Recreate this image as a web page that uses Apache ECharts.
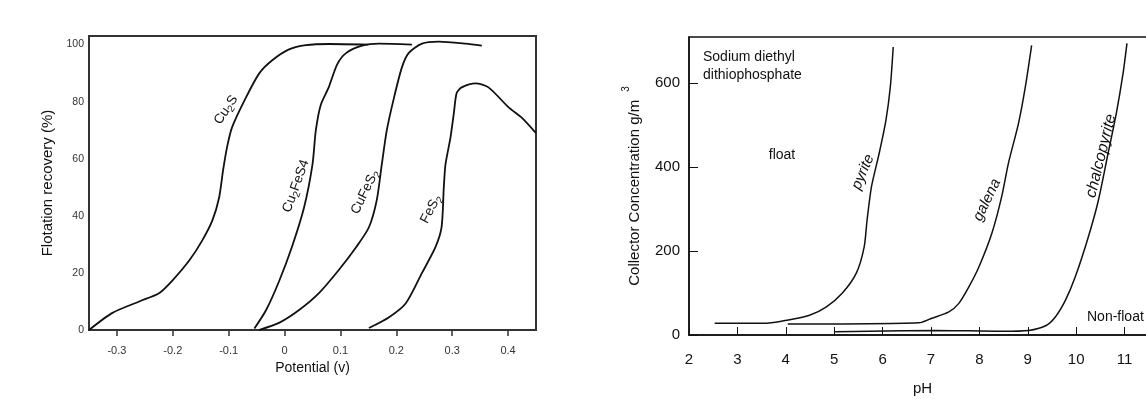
<!DOCTYPE html>
<html>
<head>
<meta charset="utf-8">
<script src="https://cdn.jsdelivr.net/npm/echarts@6/dist/echarts.min.js"></script>
<style>
  html, body { margin: 0; padding: 0; background: #fff; }
  #chart { width: 1146px; height: 399px; }
</style>
</head>
<body>
<div id="chart"></div>
<script>
// Left panel: flotation recovery (%) vs potential (v)
const potentialTicks = [-0.3, -0.2, -0.1, 0, 0.1, 0.2, 0.3, 0.4];

const cu2sX = [-0.35, -0.308, -0.26, -0.224, -0.2, -0.17, -0.147, -0.129, -0.117, -0.11, -0.103, -0.094, -0.069, -0.045, -0.022, 0.008, 0.038, 0.08, 0.15];
const cu2sY = [0, 6, 10, 13, 17.5, 24.5, 31.5, 38.5, 46.5, 56, 64, 71, 81.5, 90, 94.5, 98.3, 99.8, 100.2, 100];

const cu2fes4X = [-0.054, -0.033, -0.01, 0.013, 0.035, 0.05, 0.056, 0.065, 0.079, 0.094, 0.11, 0.139, 0.169, 0.228];
const cu2fes4Y = [0.5, 7, 17, 29, 43, 58, 70, 79, 85, 93, 97, 99.6, 100.3, 100];

const cufes2X = [-0.046, -0.01, 0.026, 0.062, 0.097, 0.128, 0.151, 0.165, 0.174, 0.183, 0.196, 0.21, 0.222, 0.246, 0.276, 0.324, 0.353];
const cufes2Y = [0, 2.5, 7, 13, 21, 29, 36, 45.5, 58, 70, 81.5, 92, 97, 100.3, 101, 100.3, 99.6];

const fes2X = [0.151, 0.187, 0.217, 0.246, 0.27, 0.281, 0.285, 0.288, 0.297, 0.303, 0.308, 0.317, 0.342, 0.365, 0.401, 0.424, 0.45];
const fes2Y = [0.7, 4.5, 9.4, 20, 29, 36, 50, 58, 67.5, 76, 83, 85, 86.4, 85, 78, 74.5, 69];

// Right panel: collector concentration vs pH
const pyriteX = [2.53, 3.6, 4.02, 4.49, 4.84, 5.17, 5.46, 5.62, 5.68, 5.77, 5.93, 6.07, 6.16, 6.22];
const pyriteY = [28, 28, 35, 47, 67, 100, 148, 210, 274, 353, 433, 512, 591, 686];

const galenaX = [4.04, 6.75, 7.02, 7.37, 7.58, 7.78, 7.99, 8.26, 8.46, 8.6, 8.81, 8.95, 9.08];
const galenaY = [26, 29, 40, 55, 76, 114, 162, 243, 329, 409, 505, 591, 690];

const chalcoX = [5.02, 5.72, 7.1, 8.46, 9.02, 9.37, 9.57, 9.78, 9.98, 10.25, 10.46, 10.66, 10.83, 10.97, 11.05];
const chalcoY = [8, 9, 11, 9, 11, 22, 43, 83, 138, 233, 321, 433, 528, 624, 695];

const zip = (xs, ys) => xs.map((x, i) => [x, ys[i]]);

const chart = echarts.init(document.getElementById('chart'));
const FONT = 'Liberation Sans, Arial, sans-serif';

function curve(name, xs, ys, idx, width) {
  return {
    name: name,
    type: 'line',
    xAxisIndex: idx,
    yAxisIndex: idx,
    data: zip(xs, ys),
    smooth: 0.25,
    showSymbol: false,
    silent: true,
    lineStyle: { color: '#111', width: width },
    z: 3
  };
}

// rotated text helper (rotation in degrees, ccw)
function label(x, y, text, deg, extra) {
  return {
    type: 'text',
    x: x,
    y: y,
    rotation: deg * Math.PI / 180,
    style: Object.assign({
      text: text,
      fill: '#111',
      font: '13px ' + FONT,
      align: 'center',
      verticalAlign: 'middle'
    }, extra || {})
  };
}

const sub = {
  a: { fontSize: 13.5, fontFamily: FONT, color: '#111' },
  s: { fontSize: 10, fontFamily: FONT, color: '#111', padding: [8, 0, 0, 0] }
};

const option = {
  backgroundColor: '#fff',
  animation: false,
  grid: [
    { left: 89, right: 610, top: 36, bottom: 69, outerBoundsMode: 'none', show: true, borderColor: '#333', borderWidth: 2, backgroundColor: 'transparent' },
    { left: 689, right: -10, top: 37, bottom: 64, outerBoundsMode: 'none', show: true, borderColor: '#111', borderWidth: 1.5, backgroundColor: 'transparent' }
  ],
  xAxis: [
    {
      gridIndex: 0,
      type: 'value',
      min: -0.35,
      max: 0.45,
      name: 'Potential (v)',
      nameLocation: 'middle',
      nameGap: 30,
      nameTextStyle: { fontFamily: FONT, fontSize: 14, color: '#111' },
      splitLine: { show: false },
      axisLine: { onZero: false, lineStyle: { color: '#333', width: 2 } },
      axisTick: { show: true, customValues: potentialTicks, length: 6, lineStyle: { color: '#333', width: 1.5 } },
      axisLabel: {
        customValues: potentialTicks,
        fontFamily: FONT, fontSize: 11, color: '#333', margin: 15,
        formatter: v => (Math.abs(v) < 1e-9 ? '0' : String(Math.round(v * 10) / 10))
      }
    },
    {
      gridIndex: 1,
      type: 'value',
      min: 2,
      max: 11.65,
      interval: 1,
      name: 'pH',
      nameLocation: 'middle',
      nameGap: 46,
      nameTextStyle: { fontFamily: FONT, fontSize: 15, color: '#111' },
      splitLine: { show: false },
      axisLine: { onZero: false, lineStyle: { color: '#111', width: 1.5 } },
      axisTick: { show: true, inside: true, length: 8, lineStyle: { color: '#111', width: 1 } },
      axisLabel: { fontFamily: FONT, fontSize: 15, color: '#111', margin: 17, showMaxLabel: false }
    }
  ],
  yAxis: [
    {
      gridIndex: 0,
      type: 'value',
      min: 0,
      max: 103,
      interval: 20,
      name: 'Flotation recovery (%)',
      nameLocation: 'middle',
      nameGap: 34,
      nameTextStyle: { fontFamily: FONT, fontSize: 15, color: '#111' },
      splitLine: { show: false },
      axisLine: { onZero: false, lineStyle: { color: '#333', width: 2 } },
      axisTick: { show: false },
      axisLabel: { fontFamily: FONT, fontSize: 10.5, color: '#333', margin: 5, showMaxLabel: false }
    },
    {
      gridIndex: 1,
      type: 'value',
      min: 0,
      max: 710,
      interval: 200,
      name: '{a|Collector Concentration g/m}{sup|3}',
      nameLocation: 'middle',
      nameGap: 40,
      nameTextStyle: {
        rich: {
          a: { fontFamily: FONT, fontSize: 15, color: '#111' },
          sup: { fontFamily: FONT, fontSize: 10, color: '#111', padding: [0, 0, 18, 8] }
        }
      },
      splitLine: { show: false },
      axisLine: { onZero: false, lineStyle: { color: '#111', width: 1.5 } },
      axisTick: { show: true, inside: true, length: 9, lineStyle: { color: '#111', width: 1 } },
      axisLabel: { fontFamily: FONT, fontSize: 15, color: '#111', margin: 9, showMaxLabel: false }
    }
  ],
  series: [
    curve('Cu2S', cu2sX, cu2sY, 0, 1.8),
    curve('Cu2FeS4', cu2fes4X, cu2fes4Y, 0, 1.8),
    curve('CuFeS2', cufes2X, cufes2Y, 0, 1.8),
    curve('FeS2', fes2X, fes2Y, 0, 1.8),
    curve('pyrite', pyriteX, pyriteY, 1, 1.5),
    curve('galena', galenaX, galenaY, 1, 1.5),
    curve('chalcopyrite', chalcoX, chalcoY, 1, 1.5)
  ],
  graphic: [
    // left panel curve labels
    label(226, 110, '{a|Cu}{s|2}{a|S}', 56, { rich: sub }),
    label(296, 186, '{a|Cu}{s|2}{a|FeS4}', 70, { rich: sub }),
    label(365, 192, '{a|CuFeS}{s|2}', 64, { rich: sub }),
    label(431, 209, '{a|FeS}{s|2}', 62, { rich: sub }),
    // right panel annotations
    label(703, 57, 'Sodium diethyl', 0, { font: '14px ' + FONT, align: 'left' }),
    label(703, 75, 'dithiophosphate', 0, { font: '14px ' + FONT, align: 'left' }),
    label(782, 155, 'float', 0, { font: '14px ' + FONT }),
    label(1087, 317, 'Non-float', 0, { font: '14px ' + FONT, align: 'left' }),
    label(863, 172, 'pyrite', 67, { font: 'italic 15px ' + FONT }),
    label(987, 200, 'galena', 64, { font: 'italic 15px ' + FONT }),
    label(1101, 156, 'chalcopyrite', 76, { font: 'italic 16px ' + FONT })
  ]
};

chart.setOption(option);
</script>
</body>
</html>
